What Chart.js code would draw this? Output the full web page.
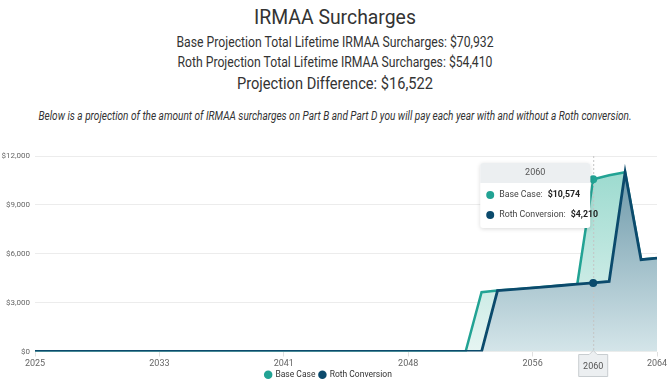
<!DOCTYPE html>
<html>
<head>
<meta charset="utf-8">
<script src="https://cdn.jsdelivr.net/npm/chart.js@4.4.0/dist/chart.umd.min.js"></script>
<style>
  body { margin: 0; width: 670px; height: 384px; background: #fff; font-family: Roboto, sans-serif; color: #333; overflow: hidden; position: relative; }
  .line { position: absolute; left: 0; width: 670px; white-space: nowrap; }
  .line span { position: absolute; left: 335px; top: 0; transform-origin: left center; }
  #chart-wrap { position: absolute; left: 0; top: 140px; width: 670px; height: 249px; }
</style>
</head>
<body>
<div class="line" style="top:4px;height:26px;line-height:26px;font-size:21px;"><span data-w="162">IRMAA Surcharges</span></div>
<div class="line" style="top:32px;height:20px;line-height:20px;font-size:14px;"><span data-w="317">Base Projection Total Lifetime IRMAA Surcharges: $70,932</span></div>
<div class="line" style="top:52px;height:20px;line-height:20px;font-size:14px;"><span data-w="315">Roth Projection Total Lifetime IRMAA Surcharges: $54,410</span></div>
<div class="line" style="top:72px;height:22px;line-height:22px;font-size:17px;"><span data-w="196">Projection Difference: $16,522</span></div>
<div class="line" style="top:107px;height:18px;line-height:18px;font-size:12px;font-style:italic;"><span data-w="593">Below is a projection of the amount of IRMAA surcharges on Part B and Part D you will pay each year with and without a Roth conversion.</span></div>
<div id="chart-wrap"><canvas id="irmaaChart" width="670" height="249"></canvas></div>
<script>
// squeeze each header line to the width measured on the reference, centred on the page
document.querySelectorAll('.line span').forEach((el) => {
  const target = parseFloat(el.dataset.w);
  const w = el.getBoundingClientRect().width;
  const s = w > 0 ? target / w : 1;
  el.style.transform = 'translateX(' + (-target / 2).toFixed(1) + 'px) scaleX(' + s.toFixed(3) + ')';
});

const years = [];
for (let y = 2025; y <= 2064; y++) years.push(y);

const baseCase = [
  0, 0, 0, 0, 0, 0, 0, 0, 0, 0,
  0, 0, 0, 0, 0, 0, 0, 0, 0, 0,
  0, 0, 0, 0, 0, 0, 0, 0,
  3640, 3740, 3810, 3890, 3970, 4050, 4130, 10574, 10820, 11000, 5640, 5730
];
const rothConversion = [
  0, 0, 0, 0, 0, 0, 0, 0, 0, 0,
  0, 0, 0, 0, 0, 0, 0, 0, 0, 0,
  0, 0, 0, 0, 0, 0, 0, 0, 0,
  3740, 3810, 3890, 3970, 4050, 4130, 4210, 4300, 11000, 5640, 5730
];
const xTickValues = [2025, 2032.8, 2040.6, 2048.4, 2056.2, 2064];
const yTickValues = [0, 3000, 6000, 9000, 12000];
const hoverYear = 2060;

const teal = '#22a394';
const navy = '#0b4a6c';

function vGradient(chart, top, bottom) {
  const area = chart.chartArea;
  if (!area) return top;
  const g = chart.ctx.createLinearGradient(0, area.top, 0, area.bottom);
  g.addColorStop(0, top);
  g.addColorStop(1, bottom);
  return g;
}

const crosshairTooltip = {
  id: 'crosshairTooltip',
  afterDraw(chart) {
    const { ctx, chartArea, scales } = chart;
    const px = scales.x.getPixelForValue(hoverYear);
    const i = years.indexOf(hoverYear);
    ctx.save();

    // dotted crosshair
    ctx.strokeStyle = '#c4c4c4';
    ctx.lineWidth = 1;
    ctx.setLineDash([2, 2]);
    ctx.beginPath();
    ctx.moveTo(px + 0.5, chartArea.top);
    ctx.lineTo(px + 0.5, chartArea.bottom);
    ctx.stroke();
    ctx.setLineDash([]);

    // hover points
    [[baseCase[i], teal], [rothConversion[i], navy]].forEach(([v, c]) => {
      ctx.fillStyle = c;
      ctx.beginPath();
      ctx.arc(px, scales.y.getPixelForValue(v), 4, 0, Math.PI * 2);
      ctx.fill();
    });

    // axis label box
    const bw = 29, bh = 22, by = chartArea.bottom + 3;
    const bx = px - bw / 2;
    ctx.fillStyle = '#eceff1';
    ctx.strokeStyle = '#c8cdd0';
    ctx.beginPath();
    ctx.moveTo(bx, by);
    ctx.lineTo(px - 4, by);
    ctx.lineTo(px, by - 4);
    ctx.lineTo(px + 4, by);
    ctx.lineTo(bx + bw, by);
    ctx.lineTo(bx + bw, by + bh);
    ctx.lineTo(bx, by + bh);
    ctx.closePath();
    ctx.fill();
    ctx.stroke();
    ctx.fillStyle = '#555';
    ctx.font = '9px Roboto, sans-serif';
    ctx.textAlign = 'center';
    ctx.textBaseline = 'middle';
    ctx.fillText(String(hoverYear), px, by + bh / 2 + 1);

    // tooltip box
    const tw = 110, th = 65;
    const tx = px - tw - 3, ty = chartArea.top + 7;
    ctx.shadowColor = 'rgba(0,0,0,0.15)';
    ctx.shadowBlur = 4;
    ctx.shadowOffsetY = 1;
    ctx.fillStyle = '#fff';
    ctx.beginPath();
    ctx.roundRect(tx, ty, tw, th, 3);
    ctx.fill();
    ctx.shadowColor = 'transparent';
    ctx.fillStyle = '#eceff1';
    ctx.beginPath();
    ctx.roundRect(tx, ty, tw, 20, [3, 3, 0, 0]);
    ctx.fill();
    ctx.fillStyle = '#555';
    ctx.fillText(String(hoverYear), tx + tw / 2, ty + 10);

    const rows = [
      ['Base Case:', baseCase[i], teal],
      ['Roth Conversion:', rothConversion[i], navy]
    ];
    rows.forEach(([label, v, c], r) => {
      const ry = ty + 32 + r * 20;
      ctx.fillStyle = c;
      ctx.beginPath();
      ctx.arc(tx + 10, ry, 4, 0, Math.PI * 2);
      ctx.fill();
      ctx.textAlign = 'left';
      ctx.fillStyle = '#444';
      ctx.font = '8.8px Roboto, sans-serif';
      ctx.fillText(label, tx + 19, ry);
      const lw = ctx.measureText(label).width;
      ctx.fillStyle = '#222';
      ctx.font = 'bold 8.8px Roboto, sans-serif';
      ctx.fillText('$' + v.toLocaleString('en-US'), tx + 19 + lw + 5, ry);
    });
    ctx.restore();
  }
};

const ctx = document.getElementById('irmaaChart').getContext('2d');
new Chart(ctx, {
  type: 'line',
  data: {
    datasets: [
      {
        label: 'Roth Conversion',
        data: years.map((yr, i) => ({ x: yr, y: rothConversion[i] })),
        borderColor: navy,
        backgroundColor: navy,
        borderWidth: 2.8,
        pointRadius: 0,
        tension: 0,
        fill: {
          target: 'origin',
          above: (c) => vGradient(c.chart, 'rgba(100,146,164,1)', 'rgba(212,229,233,1)')
        },
        order: 1
      },
      {
        label: 'Base Case',
        data: years.map((yr, i) => ({ x: yr, y: baseCase[i] })),
        borderColor: teal,
        backgroundColor: teal,
        borderWidth: 2.5,
        pointRadius: 0,
        tension: 0,
        fill: {
          target: 'origin',
          above: (c) => vGradient(c.chart, 'rgba(150,216,204,1)', 'rgba(230,245,242,1)')
        },
        order: 2
      }
    ]
  },
  options: {
    animation: false,
    responsive: false,
    events: [],
    layout: { padding: { top: 16, right: 13, left: 0, bottom: 0 } },
    scales: {
      x: {
        type: 'linear',
        min: 2025,
        max: 2064,
        afterBuildTicks: (scale) => { scale.ticks = xTickValues.map((v) => ({ value: v })); },
        afterFit: (scale) => { scale.height = 15; },
        ticks: {
          callback: (v) => String(Math.round(v)),
          color: '#666',
          font: { family: 'Roboto', size: 9 },
          maxRotation: 0,
          padding: 2
        },
        grid: { drawOnChartArea: false, tickLength: 5, color: '#e0e0e0' },
        border: { display: false }
      },
      y: {
        min: 0,
        max: 12000,
        afterBuildTicks: (scale) => { scale.ticks = yTickValues.map((v) => ({ value: v })); },
        afterFit: (scale) => { scale.width = 35; },
        ticks: {
          callback: (v) => '$' + v.toLocaleString('en-US'),
          color: '#666',
          font: { family: 'Roboto', size: 8 },
          padding: 5
        },
        grid: { color: '#ececec', drawTicks: false },
        border: { display: false }
      }
    },
    plugins: {
      legend: {
        position: 'bottom',
        reverse: true,
        labels: {
          usePointStyle: true,
          pointStyle: 'circle',
          boxWidth: 6,
          boxHeight: 6,
          padding: 4,
          color: '#333',
          font: { family: 'Roboto', size: 8.5 },
          generateLabels: (chart) =>
            Chart.defaults.plugins.legend.labels.generateLabels(chart).map((l) => ({ ...l, lineWidth: 0 }))
        }
      },
      tooltip: { enabled: false }
    }
  },
  plugins: [crosshairTooltip]
});
</script>
</body>
</html>
